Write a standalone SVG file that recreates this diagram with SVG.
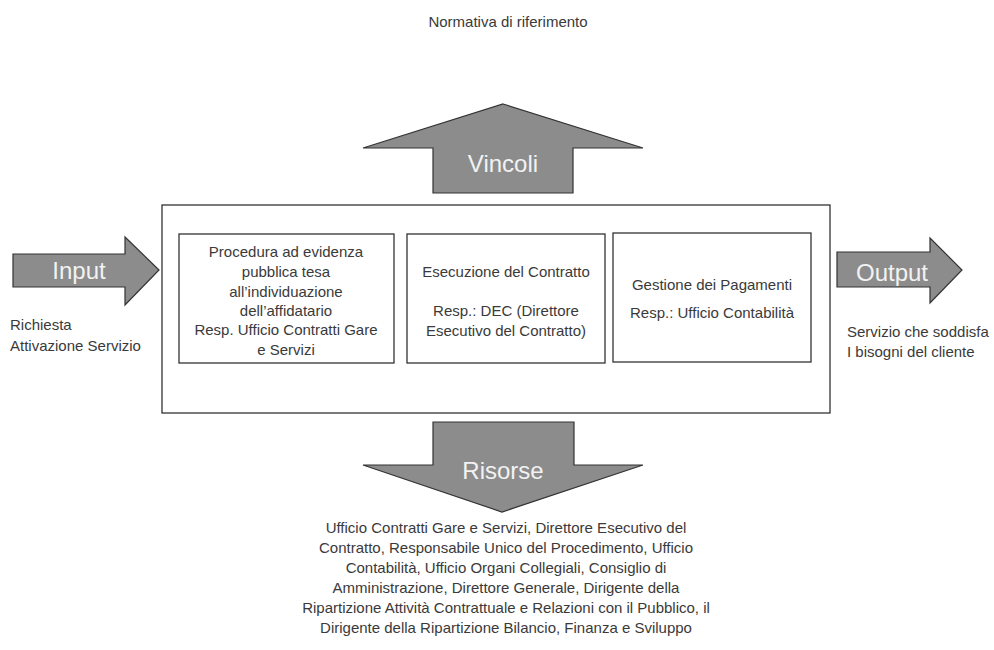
<svg xmlns="http://www.w3.org/2000/svg" width="994" height="650" viewBox="0 0 994 650">
<style>
.t{font-family:"Liberation Sans",Arial,sans-serif;font-size:15px;fill:#3a3a3a;}
.c{text-anchor:middle;}
.big{font-family:"Liberation Sans",Arial,sans-serif;font-size:24px;fill:#f2f2f2;text-anchor:middle;}
.arr{fill:#8c8c8c;stroke:#333;stroke-width:1.2;stroke-linejoin:miter;}
.box{fill:#fff;stroke:#333;stroke-width:1.3;}
</style>
<rect width="994" height="650" fill="#fff"/>
<text class="t c" x="508" y="27">Normativa di riferimento</text>
<g id="main">
<rect class="box" x="162" y="205" width="668" height="208"/>
</g>
<g id="connectors">
<g id="vincoli">
<polygon class="arr" points="503,104 643,148 573,148 573,193 433,193 433,148 363,148"/>
<text class="big" x="503" y="172">Vincoli</text>
</g>
<g id="risorse">
<polygon class="arr" points="433,422 574,422 574,465 643,465 502,512 363,465 433,465"/>
<text class="big" x="503" y="479">Risorse</text>
</g>
<g id="input">
<polygon class="arr" points="13,254 125,254 125,237 159,270 125,305 125,287 13,287"/>
<text class="big" x="79" y="279">Input</text>
</g>
<g id="output">
<polygon class="arr" points="837,252 930,252 930,238 962,270 930,303 930,287 837,287"/>
<text class="big" x="892" y="281">Output</text>
</g>
</g>
<g id="box1">
<rect class="box" x="179" y="234" width="215" height="129"/>
<text class="t c" x="286" y="257">Procedura ad evidenza</text>
<text class="t c" x="286" y="277">pubblica tesa</text>
<text class="t c" x="286" y="297">all’individuazione</text>
<text class="t c" x="286" y="316">dell’affidatario</text>
<text class="t c" x="286" y="335">Resp. Ufficio Contratti Gare</text>
<text class="t c" x="286" y="355">e Servizi</text>
</g>
<g id="box2">
<rect class="box" x="407" y="234" width="198" height="129"/>
<text class="t c" x="506" y="277">Esecuzione del Contratto</text>
<text class="t c" x="506" y="316">Resp.: DEC (Direttore</text>
<text class="t c" x="506" y="336">Esecutivo del Contratto)</text>
</g>
<g id="box3">
<rect class="box" x="613" y="233" width="198" height="129"/>
<text class="t c" x="712" y="290">Gestione dei Pagamenti</text>
<text class="t c" x="712" y="318">Resp.: Ufficio Contabilità</text>
</g>
<g id="input-label">
<text class="t" x="10" y="330">Richiesta</text>
<text class="t" x="10" y="351">Attivazione Servizio</text>
</g>
<g id="output-label">
<text class="t" x="847" y="337">Servizio che soddisfa</text>
<text class="t" x="847" y="357">I bisogni del cliente</text>
</g>
<g id="risorse-label">
<text class="t c" x="506" y="533">Ufficio Contratti Gare e Servizi, Direttore Esecutivo del</text>
<text class="t c" x="506" y="553">Contratto, Responsabile Unico del Procedimento, Ufficio</text>
<text class="t c" x="506" y="573">Contabilità, Ufficio Organi Collegiali, Consiglio di</text>
<text class="t c" x="506" y="593">Amministrazione, Direttore Generale, Dirigente della</text>
<text class="t c" x="506" y="613">Ripartizione Attività Contrattuale e Relazioni con il Pubblico, il</text>
<text class="t c" x="506" y="633">Dirigente della Ripartizione Bilancio, Finanza e Sviluppo</text>
</g>
</svg>
